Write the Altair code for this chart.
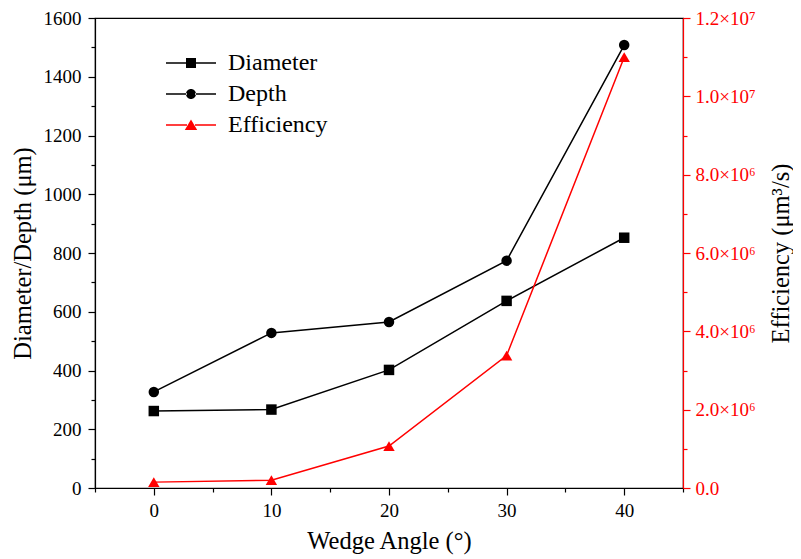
import altair as alt
import pandas as pd

angles = [0, 10, 20, 30, 40]
diameter = [262, 267, 402, 637, 852]
depth = [327, 528, 565, 774, 1508]
efficiency = [1.5e5, 2.0e5, 1.07e6, 3.38e6, 1.10e7]

series_names = ["Diameter", "Depth", "Efficiency"]
series_colors = ["black", "black", "red"]
series_shapes = ["square", "circle", "triangle-up"]
# legend symbols: a short line (thin filled bars) plus the marker (unit = 10 px)
_bar = "M-2.5,-0.075H-0.4V0.075H-2.5Z M0.4,-0.075H2.5V0.075H0.4Z "
legend_paths = [
    _bar + "M-0.5,-0.5H0.5V0.5H-0.5Z",
    _bar + "M-0.5,0A0.5,0.5 0 1,0 0.5,0A0.5,0.5 0 1,0 -0.5,0Z",
    _bar + "M0,-0.55L0.62,0.5H-0.62Z",
]

rows = []
for name, vals in zip(series_names, [diameter, depth, efficiency]):
    for a, v in zip(angles, vals):
        rows.append({"angle": a, "value": v, "series": name})
df = pd.DataFrame(rows)

FONT = "Liberation Serif"

color = alt.Color("series:N", scale=alt.Scale(domain=series_names, range=series_colors), legend=None)
shape = alt.Shape("series:N", scale=alt.Scale(domain=series_names, range=series_shapes), legend=None)

xenc = alt.X("angle:Q", scale=alt.Scale(domain=[-5, 45], nice=False, zero=False),
             axis=alt.Axis(title="Wedge Angle (°)", values=list(range(-5, 50, 5)),
                           labelExpr="datum.value % 10 == 0 && datum.value >= 0 && datum.value <= 40 ? datum.label : ''",
                           tickSize={"condition": {"test": "datum.value % 10 == 0", "value": 7}, "value": 4},
                           grid=False, labelFlush=False, labelPadding=6, titlePadding=9))

base = alt.Chart(df)

left_scale = alt.Scale(domain=[0, 1600], nice=False)
left_y = alt.Y("value:Q", scale=left_scale,
               axis=alt.Axis(title="Diameter/Depth (μm)", orient="left", values=list(range(0, 1700, 100)),
                             labelExpr="datum.value % 200 == 0 ? datum.label : ''",
                             format="d", labelPadding=7,
                             tickSize={"condition": {"test": "datum.value % 200 == 0", "value": 7}, "value": 4},
                             grid=False, titlePadding=8))
left_y_noaxis = alt.Y("value:Q", scale=left_scale, axis=None)

right_scale = alt.Scale(domain=[0, 1.2e7], nice=False)
right_y = alt.Y("value:Q", scale=right_scale,
                axis=alt.Axis(title="Efficiency (μm³/s)", orient="right", values=[i * 1e6 for i in range(13)],
                              labelExpr="datum.value == 0 ? '0.0' : datum.value % 2000000 != 0 ? '' : datum.value < 1e7 ? format(datum.value / 1e6, '.1f') + '×10⁶' : format(datum.value / 1e7, '.1f') + '×10⁷'",
                              tickSize={"condition": {"test": "datum.value % 2000000 == 0", "value": 7}, "value": 4},
                              domainColor="red", tickColor="red", labelColor="red", titleColor="black",
                              labelPadding=5, titleAngle=270, titleBaseline="middle", titleX=98,
                              grid=False))
right_y_noaxis = alt.Y("value:Q", scale=right_scale, axis=None)

left_df = base.transform_filter(alt.FieldOneOfPredicate(field="series", oneOf=["Diameter", "Depth"]))
left_line = left_df.mark_line(strokeWidth=1.5).encode(x=xenc, y=left_y, color=color, detail="series:N")
left_pts = left_df.mark_point(filled=True, size=110, opacity=1).encode(x=xenc, y=left_y_noaxis, color=color, shape=shape)

right_df = base.transform_filter(alt.FieldEqualPredicate(field="series", equal="Efficiency"))
right_line = right_df.mark_line(strokeWidth=1.5).encode(x=xenc, y=right_y, color=color)
right_pts = right_df.mark_point(filled=True, size=130, opacity=1).encode(x=xenc, y=right_y_noaxis, color=color, shape=shape)

legend_cfg = dict(title=None, orient="none", legendX=84, legendY=33,
                  labelFont=FONT, labelFontSize=24, labelColor="black",
                  rowPadding=7, labelOffset=25,
                  symbolSize=400, symbolStrokeWidth=0, symbolOpacity=1)

# legend-only layer (invisible marks)
legend_layer = base.transform_filter(alt.datum.angle == 0).mark_point(filled=True, size=0, opacity=0).encode(
    shape=alt.Shape("series:N", scale=alt.Scale(domain=series_names, range=legend_paths),
                    legend=alt.Legend(**legend_cfg)),
    color=alt.Color("series:N", scale=alt.Scale(domain=series_names, range=series_colors),
                    legend=alt.Legend(**legend_cfg)),
)

chart = alt.layer(left_line, left_pts, right_line, right_pts, legend_layer).resolve_scale(
    y="independent", shape="independent", color="independent"
).properties(
    width=588, height=470,
    autosize=alt.AutoSizeParams(type="none"),
    padding={"left": 87, "top": 10, "right": 110, "bottom": 70},
).configure_axis(
    labelFont=FONT, titleFont=FONT, labelFontSize=19, titleFontSize=24.5,
    titleFontWeight="normal", domainColor="black", tickColor="black", labelColor="black",
    titleColor="black", domainWidth=1.2, tickWidth=1.2,
).configure_view(stroke="black", strokeWidth=1.2)

chart.save("out.html", embed_options={"renderer": "svg", "actions": False})
